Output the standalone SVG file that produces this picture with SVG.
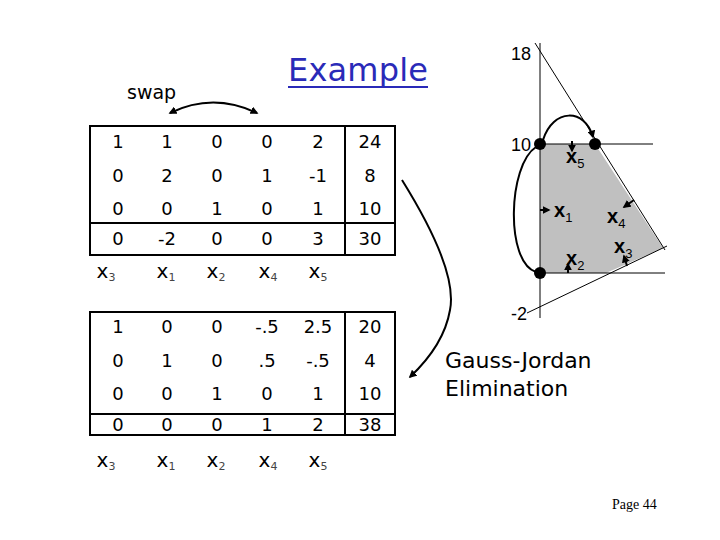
<svg xmlns="http://www.w3.org/2000/svg" width="720" height="540" viewBox="0 0 720 540">
<defs>
<style>
.num{font-family:"DejaVu Sans","Liberation Sans",sans-serif;font-size:18px;fill:#000;text-anchor:middle}
.lbl{font-family:"DejaVu Sans","Liberation Sans",sans-serif;font-size:20px;fill:#000;text-anchor:middle}
.sub{font-size:11px;fill:#444}
.g{font-family:"Liberation Sans",Arial,sans-serif;fill:#000}
.gx{font-family:"Liberation Sans",Arial,sans-serif;font-size:20px;font-weight:bold;fill:#000}
.gs{font-size:13px;font-weight:normal}
.box{fill:none;stroke:#000;stroke-width:2}
.thin{stroke:#000;stroke-width:1;fill:none}
.crv{fill:none;stroke:#000;stroke-width:2}
.small{stroke:#000;stroke-width:2;fill:none}
</style>
<marker id="ah" viewBox="0 0 10 10" refX="8" refY="5" markerWidth="4" markerHeight="4" orient="auto-start-reverse" markerUnits="strokeWidth">
<path d="M0,0 L10,5 L0,10 z" fill="#000"/>
</marker>
</defs>
<rect width="720" height="540" fill="#fff"/>

<g id="title">
<text x="288" y="81" font-family="DejaVu Sans,Liberation Sans,sans-serif" font-size="32" fill="#2a2ab8" textLength="140">Example</text>
<line x1="288" y1="87" x2="428" y2="87" stroke="#2a2ab8" stroke-width="2"/>
</g>

<g id="swap-label">
<text x="127" y="99" font-family="DejaVu Sans,Liberation Sans,sans-serif" font-size="19" fill="#000">swap</text>
</g>

<g id="table1">
<rect class="box" x="90" y="126" width="305" height="129"/>
<line class="box" x1="345" y1="126" x2="345" y2="255"/>
<line class="box" x1="90" y1="223" x2="395" y2="223"/>
<text class="num" y="148"><tspan x="118">1</tspan><tspan x="167">1</tspan><tspan x="217">0</tspan><tspan x="267">0</tspan><tspan x="318">2</tspan><tspan x="370">24</tspan></text>
<text class="num" y="182"><tspan x="118">0</tspan><tspan x="167">2</tspan><tspan x="217">0</tspan><tspan x="267">1</tspan><tspan x="318">-1</tspan><tspan x="370">8</tspan></text>
<text class="num" y="215"><tspan x="118">0</tspan><tspan x="167">0</tspan><tspan x="217">1</tspan><tspan x="267">0</tspan><tspan x="318">1</tspan><tspan x="370">10</tspan></text>
<text class="num" y="245"><tspan x="118">0</tspan><tspan x="167">-2</tspan><tspan x="217">0</tspan><tspan x="267">0</tspan><tspan x="318">3</tspan><tspan x="370">30</tspan></text>
<text class="lbl" x="106" y="278">x<tspan class="sub" dy="3">3</tspan></text>
<text class="lbl" x="166" y="278">x<tspan class="sub" dy="3">1</tspan></text>
<text class="lbl" x="216" y="278">x<tspan class="sub" dy="3">2</tspan></text>
<text class="lbl" x="268" y="278">x<tspan class="sub" dy="3">4</tspan></text>
<text class="lbl" x="318" y="278">x<tspan class="sub" dy="3">5</tspan></text>
</g>

<g id="table2">
<rect class="box" x="90" y="312" width="305" height="123"/>
<line class="box" x1="345" y1="312" x2="345" y2="435"/>
<line class="box" x1="90" y1="414" x2="395" y2="414"/>
<text class="num" y="333"><tspan x="118">1</tspan><tspan x="167">0</tspan><tspan x="217">0</tspan><tspan x="267">-.5</tspan><tspan x="318">2.5</tspan><tspan x="370">20</tspan></text>
<text class="num" y="367"><tspan x="118">0</tspan><tspan x="167">1</tspan><tspan x="217">0</tspan><tspan x="267">.5</tspan><tspan x="318">-.5</tspan><tspan x="370">4</tspan></text>
<text class="num" y="400"><tspan x="118">0</tspan><tspan x="167">0</tspan><tspan x="217">1</tspan><tspan x="267">0</tspan><tspan x="318">1</tspan><tspan x="370">10</tspan></text>
<text class="num" y="431"><tspan x="118">0</tspan><tspan x="167">0</tspan><tspan x="217">0</tspan><tspan x="267">1</tspan><tspan x="318">2</tspan><tspan x="370">38</tspan></text>
<text class="lbl" x="106" y="467">x<tspan class="sub" dy="3">3</tspan></text>
<text class="lbl" x="166" y="467">x<tspan class="sub" dy="3">1</tspan></text>
<text class="lbl" x="216" y="467">x<tspan class="sub" dy="3">2</tspan></text>
<text class="lbl" x="268" y="467">x<tspan class="sub" dy="3">4</tspan></text>
<text class="lbl" x="318" y="467">x<tspan class="sub" dy="3">5</tspan></text>
</g>

<g id="graph">
<polygon points="540,144 595,144 663,248 606,273 540,273" fill="#c0c0c0"/>
<line class="thin" x1="540" y1="43" x2="540" y2="318"/>
<line class="thin" x1="540" y1="144" x2="653" y2="144"/>
<line class="thin" x1="540" y1="273" x2="665" y2="273"/>
<line class="thin" x1="535" y1="43" x2="665" y2="250"/>
<line class="thin" x1="527" y1="313" x2="667" y2="246"/>
<circle cx="540" cy="144" r="6" fill="#000"/>
<circle cx="595" cy="144" r="6" fill="#000"/>
<circle cx="540" cy="273" r="6" fill="#000"/>
<text class="g" x="511" y="60" font-size="18">18</text>
<text class="g" x="511" y="151" font-size="18">10</text>
<text class="g" x="511" y="320" font-size="18">-2</text>
<text class="gx" x="566" y="163">x<tspan class="gs" dy="5">5</tspan></text>
<text class="gx" x="554" y="217">x<tspan class="gs" dy="5">1</tspan></text>
<text class="gx" x="607" y="223">x<tspan class="gs" dy="5">4</tspan></text>
<text class="gx" x="614" y="253">x<tspan class="gs" dy="5">3</tspan></text>
<text class="gx" x="566" y="265">x<tspan class="gs" dy="5">2</tspan></text>
</g>

<g id="connectors">
<path class="crv" d="M170,113 Q213,92 257,113" marker-start="url(#ah)" marker-end="url(#ah)"/>
<path class="crv" d="M402,180 Q458,270 450,310 Q444,345 410,377" marker-end="url(#ah)"/>
<path class="crv" d="M543,140 C553,108 585,108 593,137" marker-end="url(#ah)"/>
<path class="crv" d="M536,147 C508,165 505,262 536,272"/>
<line class="small" x1="572" y1="141" x2="572" y2="151" marker-end="url(#ah)"/>
<line class="small" x1="540" y1="210" x2="549" y2="210" marker-end="url(#ah)"/>
<line class="small" x1="568" y1="273" x2="568" y2="264" marker-end="url(#ah)"/>
<line class="small" x1="634" y1="200" x2="624" y2="207" marker-end="url(#ah)"/>
<line class="small" x1="627" y1="266" x2="624" y2="256" marker-end="url(#ah)"/>
</g>

<g id="caption">
<text x="445" y="368" font-family="DejaVu Sans,Liberation Sans,sans-serif" font-size="22" fill="#000">Gauss-Jordan</text>
<text x="445" y="396" font-family="DejaVu Sans,Liberation Sans,sans-serif" font-size="22" fill="#000">Elimination</text>
</g>

<g id="page">
<text x="612" y="509" font-family="Liberation Serif,Times New Roman,serif" font-size="14" fill="#000">Page 44</text>
</g>
</svg>
